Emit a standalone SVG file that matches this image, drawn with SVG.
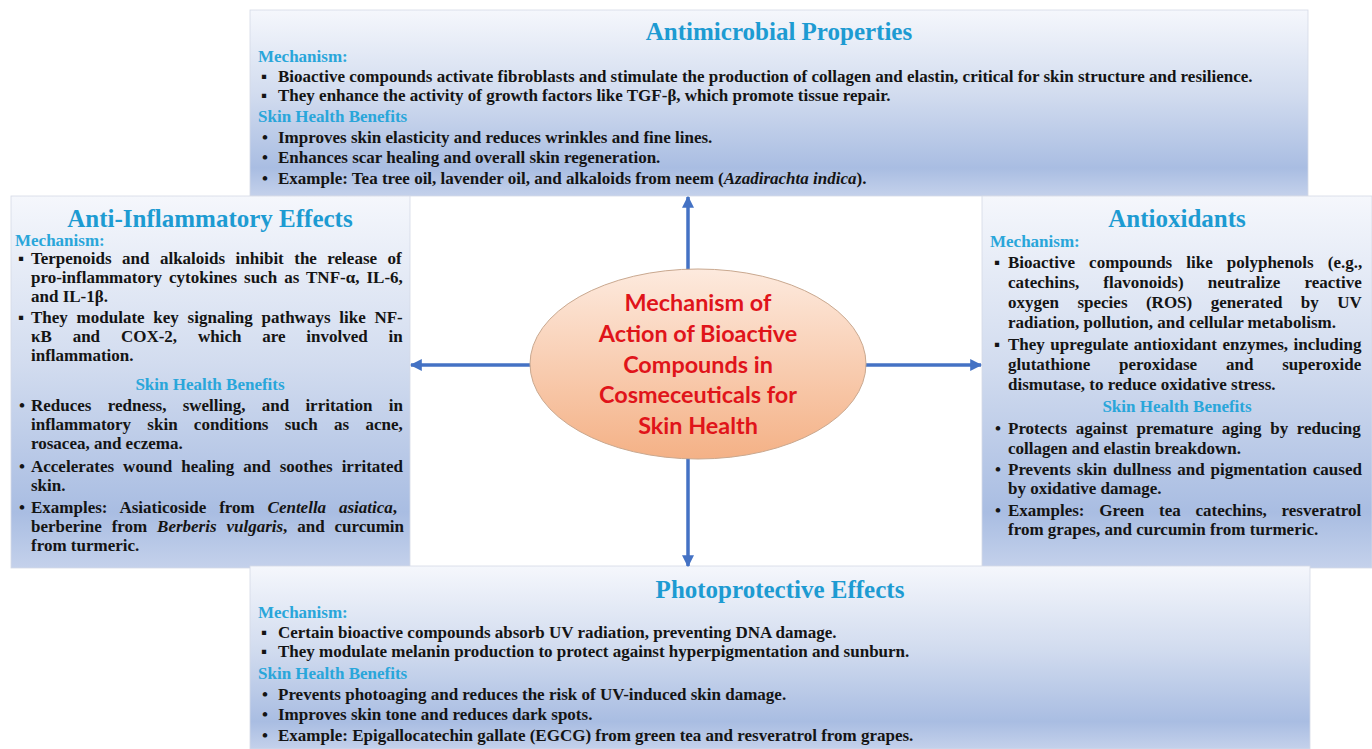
<svg xmlns="http://www.w3.org/2000/svg" width="1372" height="749" viewBox="0 0 1372 749">
<defs>
<linearGradient id="boxg" x1="0" y1="0" x2="0" y2="1">
<stop offset="0" stop-color="#f5f7fc"/>
<stop offset="0.45" stop-color="#d2dcef"/>
<stop offset="0.85" stop-color="#a9bde2"/>
<stop offset="1" stop-color="#c4d1eb"/>
</linearGradient>
<linearGradient id="ellg" x1="0" y1="0" x2="0" y2="1">
<stop offset="0" stop-color="#fdeade"/>
<stop offset="1" stop-color="#f4b186"/>
</linearGradient>
<marker id="ah" viewBox="0 0 10 10" refX="9" refY="5" markerWidth="12" markerHeight="12" markerUnits="userSpaceOnUse" orient="auto">
<path d="M0,0 L10,5 L0,10 z" fill="#4472c4"/>
</marker>
<style>
.box{fill:url(#boxg);stroke:#d4dae6;stroke-width:0.8}
.t{font-family:"Liberation Serif","Times New Roman",serif;font-weight:bold;font-size:17px;fill:#141414}
.h{font-family:"Liberation Serif","Times New Roman",serif;font-weight:bold;font-size:17px;fill:#29a6da}
.ttl{font-family:"Liberation Serif","Times New Roman",serif;font-weight:bold;font-size:25px;fill:#1d9bd2;text-anchor:middle}
.i{font-style:italic}
.mid{text-anchor:middle}
.c{font-family:Lato,"Liberation Sans",sans-serif;font-weight:700;font-size:23.4px;fill:#e0141a;text-anchor:middle}
.arr{stroke:#4472c4;stroke-width:3.5;fill:none;marker-end:url(#ah)}
</style>
</defs>
<rect width="1372" height="749" fill="#ffffff"/>

<g id="antimicrobial">
<rect class="box" x="250" y="10" width="1058" height="186"/>
<text class="ttl" x="779" y="40">Antimicrobial Properties</text>
<text class="h" x="258" y="62">Mechanism:</text>
<text class="t" x="261" y="82">▪</text>
<text class="t" x="278" y="82">Bioactive compounds activate fibroblasts and stimulate the production of collagen and elastin, critical for skin structure and resilience.</text>
<text class="t" x="261" y="101">▪</text>
<text class="t" x="278" y="101">They enhance the activity of growth factors like TGF-β, which promote tissue repair.</text>
<text class="h" x="258" y="122">Skin Health Benefits</text>
<text class="t" x="262" y="143">•</text>
<text class="t" x="278" y="143">Improves skin elasticity and reduces wrinkles and fine lines.</text>
<text class="t" x="262" y="163">•</text>
<text class="t" x="278" y="163">Enhances scar healing and overall skin regeneration.</text>
<text class="t" x="262" y="184">•</text>
<text class="t" x="278" y="184">Example: Tea tree oil, lavender oil, and alkaloids from neem (<tspan class="i">Azadirachta indica</tspan>).</text>
</g>

<g id="anti-inflammatory">
<rect class="box" x="11" y="196" width="399" height="372"/>
<text class="ttl" x="210" y="227">Anti-Inflammatory Effects</text>
<text class="h" x="15" y="246">Mechanism:</text>
<text class="t" x="18" y="264">▪</text>
<text class="t" x="31" y="264" word-spacing="6.2">Terpenoids and alkaloids inhibit the release of</text>
<text class="t" x="31" y="283" word-spacing="2.8">pro-inflammatory cytokines such as TNF-α, IL-6,</text>
<text class="t" x="31" y="302">and IL-1β.</text>
<text class="t" x="18" y="323">▪</text>
<text class="t" x="31" y="323" word-spacing="4.5">They modulate key signaling pathways like NF-</text>
<text class="t" x="31" y="342" word-spacing="16.6">κB and COX-2, which are involved in</text>
<text class="t" x="31" y="361">inflammation.</text>
<text class="h mid" x="210" y="390">Skin Health Benefits</text>
<text class="t" x="19" y="411">•</text>
<text class="t" x="31" y="411" word-spacing="12">Reduces redness, swelling, and irritation in</text>
<text class="t" x="31" y="430" word-spacing="12">inflammatory skin conditions such as acne,</text>
<text class="t" x="31" y="449">rosacea, and eczema.</text>
<text class="t" x="19" y="472">•</text>
<text class="t" x="31" y="472" word-spacing="4.8">Accelerates wound healing and soothes irritated</text>
<text class="t" x="31" y="491">skin.</text>
<text class="t" x="19" y="513">•</text>
<text class="t" x="31" y="513" word-spacing="8.6">Examples: Asiaticoside from <tspan class="i">Centella asiatica</tspan>,</text>
<text class="t" x="31" y="532" word-spacing="5.6">berberine from <tspan class="i">Berberis vulgaris</tspan>, and curcumin</text>
<text class="t" x="31" y="551">from turmeric.</text>
</g>

<g id="antioxidants">
<rect class="box" x="982" y="196" width="390" height="372"/>
<text class="ttl" x="1177" y="227">Antioxidants</text>
<text class="h" x="990" y="247">Mechanism:</text>
<text class="t" x="994" y="268">▪</text>
<text class="t" x="1008" y="268" word-spacing="9.8">Bioactive compounds like polyphenols (e.g.,</text>
<text class="t" x="1008" y="288" word-spacing="19.8">catechins, flavonoids) neutralize reactive</text>
<text class="t" x="1008" y="308" word-spacing="14.2">oxygen species (ROS) generated by UV</text>
<text class="t" x="1008" y="328">radiation, pollution, and cellular metabolism.</text>
<text class="t" x="994" y="350">▪</text>
<text class="t" x="1008" y="350" word-spacing="1.2">They upregulate antioxidant enzymes, including</text>
<text class="t" x="1008" y="370" word-spacing="24.6">glutathione peroxidase and superoxide</text>
<text class="t" x="1008" y="390">dismutase, to reduce oxidative stress.</text>
<text class="h mid" x="1177" y="412">Skin Health Benefits</text>
<text class="t" x="995" y="434">•</text>
<text class="t" x="1008" y="434" word-spacing="4.4">Protects against premature aging by reducing</text>
<text class="t" x="1008" y="454">collagen and elastin breakdown.</text>
<text class="t" x="995" y="475">•</text>
<text class="t" x="1008" y="475" word-spacing="1.6">Prevents skin dullness and pigmentation caused</text>
<text class="t" x="1008" y="494">by oxidative damage.</text>
<text class="t" x="995" y="516">•</text>
<text class="t" x="1008" y="516" word-spacing="10.5">Examples: Green tea catechins, resveratrol</text>
<text class="t" x="1008" y="535">from grapes, and curcumin from turmeric.</text>
</g>

<g id="photoprotective">
<rect class="box" x="250" y="566" width="1060" height="183"/>
<text class="ttl" x="780" y="598">Photoprotective Effects</text>
<text class="h" x="258" y="618">Mechanism:</text>
<text class="t" x="261" y="638">▪</text>
<text class="t" x="278" y="638">Certain bioactive compounds absorb UV radiation, preventing DNA damage.</text>
<text class="t" x="261" y="657">▪</text>
<text class="t" x="278" y="657">They modulate melanin production to protect against hyperpigmentation and sunburn.</text>
<text class="h" x="258" y="679">Skin Health Benefits</text>
<text class="t" x="262" y="700">•</text>
<text class="t" x="278" y="700">Prevents photoaging and reduces the risk of UV-induced skin damage.</text>
<text class="t" x="262" y="720">•</text>
<text class="t" x="278" y="720">Improves skin tone and reduces dark spots.</text>
<text class="t" x="262" y="741">•</text>
<text class="t" x="278" y="741">Example: Epigallocatechin gallate (EGCG) from green tea and resveratrol from grapes.</text>
</g>

<g id="connectors">
<path class="arr" d="M688,270 L688,197"/>
<path class="arr" d="M688,458 L688,566"/>
<path class="arr" d="M531,365 L411,365"/>
<path class="arr" d="M865,365 L981,365"/>
</g>

<g id="center">
<ellipse cx="698" cy="364" rx="168" ry="95" fill="url(#ellg)" stroke="#c9a88f" stroke-width="1"/>
<text class="c" x="698" y="311">Mechanism of</text>
<text class="c" x="698" y="342">Action of Bioactive</text>
<text class="c" x="698" y="373">Compounds in</text>
<text class="c" x="698" y="403">Cosmeceuticals for</text>
<text class="c" x="698" y="434">Skin Health</text>
</g>
</svg>
